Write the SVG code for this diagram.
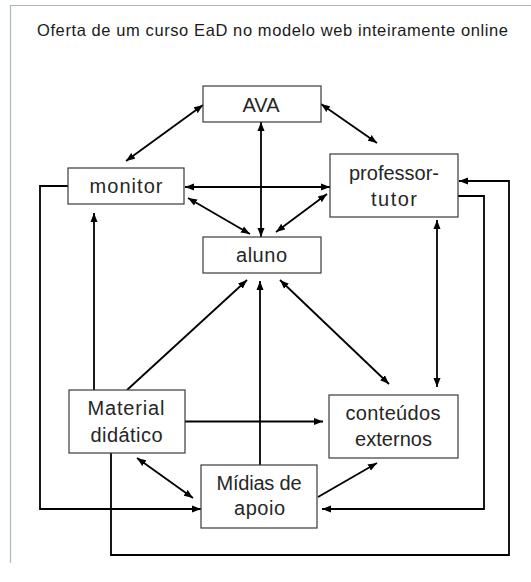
<svg xmlns="http://www.w3.org/2000/svg" width="531" height="582" viewBox="0 0 531 582">
<style>
.frame{fill:none;stroke:#a9b7c8;stroke-width:1.2}
.box{fill:#ffffff;stroke:#3a3a3a;stroke-width:1.2}
.lbl{font-family:"Liberation Sans",Arial,sans-serif;font-size:20px;fill:#262626;text-anchor:middle}
.title{font-family:"Liberation Sans",Arial,sans-serif;font-size:16.5px;fill:#1a1a1a}
.c{fill:none;stroke:#000;stroke-width:1.8}
.a1{marker-end:url(#ah)}
.a2{marker-start:url(#ah);marker-end:url(#ah)}
</style>
<defs>
<marker id="ah" markerUnits="userSpaceOnUse" markerWidth="10" markerHeight="8" refX="9" refY="4" orient="auto-start-reverse">
<path d="M0,0.5 L9,4 L0,7.5 z" fill="#000"/>
</marker>
</defs>
<rect width="531" height="582" fill="#ffffff"/>
<path class="frame" d="M10.5,563 V5.5 H531"/>
<text class="title" x="37" y="35.5" textLength="471">Oferta de um curso EaD no modelo web inteiramente online</text>

<g id="connectors">
<line class="c a2" x1="126" y1="161" x2="203" y2="105"/>
<line class="c a2" x1="321" y1="104" x2="377" y2="143"/>
<line class="c a2" x1="261" y1="122" x2="261" y2="237"/>
<line class="c a2" x1="185" y1="187" x2="330" y2="187"/>
<line class="c a2" x1="188" y1="198" x2="250" y2="234"/>
<line class="c a2" x1="327" y1="194" x2="276" y2="232"/>
<line class="c a1" x1="127" y1="390" x2="247" y2="280"/>
<line class="c a1" x1="260" y1="465" x2="260" y2="281"/>
<line class="c a2" x1="280" y1="280" x2="389" y2="384"/>
<line class="c a2" x1="437" y1="220" x2="437" y2="387"/>
<line class="c a1" x1="94" y1="390" x2="94" y2="213"/>
<line class="c a1" x1="185" y1="421.5" x2="323" y2="421.5"/>
<line class="c a2" x1="137" y1="458" x2="193" y2="498"/>
<line class="c a1" x1="318" y1="497" x2="377" y2="463"/>
<path class="c a1" d="M68,186 H40 V509 H201"/>
<path class="c a1" d="M111,453 V555 H509 V181 H459"/>
<path class="c a1" d="M458,196 H484 V509 H322"/>
</g>

<g id="ava">
<rect class="box" x="203" y="86" width="118" height="36"/>
<text class="lbl" x="261" y="112" textLength="37">AVA</text>
</g>
<g id="monitor">
<rect class="box" x="68" y="168" width="116" height="36"/>
<text class="lbl" x="126" y="193" textLength="73">monitor</text>
</g>
<g id="professor-tutor">
<rect class="box" x="330" y="154" width="128" height="63"/>
<text class="lbl" x="394" y="180" textLength="90">professor-</text>
<text class="lbl" x="394" y="206" textLength="46">tutor</text>
</g>
<g id="aluno">
<rect class="box" x="203" y="237" width="118" height="36"/>
<text class="lbl" x="261.5" y="262" textLength="51">aluno</text>
</g>
<g id="material-didatico">
<rect class="box" x="69" y="390" width="116" height="63"/>
<text class="lbl" x="126" y="415" textLength="77">Material</text>
<text class="lbl" x="126.5" y="442" textLength="72">didático</text>
</g>
<g id="conteudos-externos">
<rect class="box" x="329" y="395" width="129" height="63"/>
<text class="lbl" x="393" y="419.5" textLength="95">conteúdos</text>
<text class="lbl" x="393.5" y="446" textLength="77">externos</text>
</g>
<g id="midias-de-apoio">
<rect class="box" x="201" y="465" width="116" height="63"/>
<text class="lbl" x="259" y="490" textLength="85">Mídias de</text>
<text class="lbl" x="259.5" y="515" textLength="51">apoio</text>
</g>
</svg>
